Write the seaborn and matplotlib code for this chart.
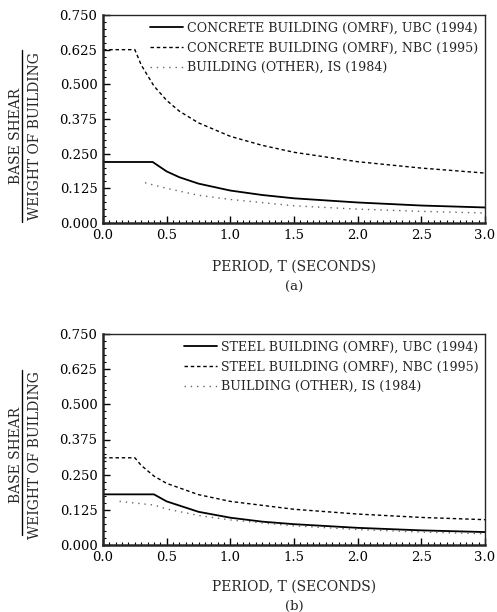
import matplotlib
matplotlib.use("Agg")
import matplotlib.pyplot as plt
from matplotlib.lines import Line2D
from matplotlib.ticker import MultipleLocator, FormatStrFormatter
import seaborn as sns
import pandas as pd

# ---------------- data ----------------
# (a) concrete buildings
t_ubc_c = [0.0, 0.39, 0.5, 0.6, 0.75, 1.0, 1.25, 1.5, 2.0, 2.5, 3.0]
v_ubc_c = [0.22, 0.22, 0.186, 0.165, 0.142, 0.117, 0.101, 0.089, 0.074, 0.063, 0.056]
t_nbc_c = [0.0, 0.25, 0.3, 0.4, 0.5, 0.6, 0.75, 1.0, 1.25, 1.5, 2.0, 2.5, 3.0]
v_nbc_c = [0.625, 0.625, 0.57, 0.494, 0.442, 0.403, 0.361, 0.3125, 0.28, 0.255, 0.221, 0.198, 0.18]
t_is_a = [0.33, 0.5, 0.75, 1.0, 1.5, 2.0, 2.5, 3.0]
v_is_a = [0.145, 0.125, 0.1, 0.085, 0.062, 0.05, 0.042, 0.036]

# (b) steel buildings
t_ubc_s = [0.0, 0.4, 0.5, 0.75, 1.0, 1.25, 1.5, 2.0, 2.5, 3.0]
v_ubc_s = [0.18, 0.18, 0.155, 0.118, 0.097, 0.083, 0.074, 0.061, 0.052, 0.046]
t_nbc_s = [0.0, 0.25, 0.3, 0.4, 0.5, 0.75, 1.0, 1.5, 2.0, 2.5, 3.0]
v_nbc_s = [0.31, 0.31, 0.283, 0.245, 0.219, 0.179, 0.155, 0.127, 0.11, 0.098, 0.09]
t_is_b = [0.13, 0.4, 0.5, 0.75, 1.0, 1.5, 2.0, 2.5, 3.0]
v_is_b = [0.155, 0.142, 0.128, 0.105, 0.089, 0.068, 0.055, 0.046, 0.04]

labels_a = ["CONCRETE BUILDING (OMRF), UBC (1994)",
            "CONCRETE BUILDING (OMRF), NBC (1995)",
            "BUILDING (OTHER), IS (1984)"]
labels_b = ["STEEL BUILDING (OMRF), UBC (1994)",
            "STEEL BUILDING (OMRF), NBC (1995)",
            "BUILDING (OTHER), IS (1984)"]
xticks = [0.0, 0.5, 1.0, 1.5, 2.0, 2.5, 3.0]
yticks = [0.0, 0.125, 0.25, 0.375, 0.5, 0.625, 0.75]
xlabel = "PERIOD, T (SECONDS)"
ylabel_top = "BASE SHEAR"
ylabel_bot = "WEIGHT OF BUILDING"
panel_tags = ["(a)", "(b)"]

# ---------------- style ----------------
sns.set_style("ticks")
plt.rcParams["font.family"] = ["DejaVu Serif"]
plt.rcParams["font.size"] = 9

fig = plt.figure(figsize=(4.97, 6.12), dpi=100)

W, H = 497.0, 612.0
def ax_rect(l, r, t, b):
    return [l / W, 1 - b / H, (r - l) / W, (b - t) / H]

styles = [dict(color="black", linestyle="-", linewidth=1.3),
          dict(color="black", linestyle=(0, (2.5, 2)), linewidth=1.0),
          dict(color="#666666", linestyle=(0, (1, 3.5)), linewidth=1.0)]

panels = [
    dict(rect=ax_rect(103, 485, 15, 223),
         series=[(t_ubc_c, v_ubc_c), (t_nbc_c, v_nbc_c), (t_is_a, v_is_a)],
         labels=labels_a, tag=panel_tags[0], ylab_cy=136, ylab_span=(50, 222),
         xlab_y=267, tag_y=287),
    dict(rect=ax_rect(103, 485, 334, 545),
         series=[(t_ubc_s, v_ubc_s), (t_nbc_s, v_nbc_s), (t_is_b, v_is_b)],
         labels=labels_b, tag=panel_tags[1], ylab_cy=455, ylab_span=(370, 535),
         xlab_y=587, tag_y=606),
]

for p in panels:
    ax = fig.add_axes(p["rect"])
    for (tx, vy), lab, st in zip(p["series"], p["labels"], styles):
        df = pd.DataFrame({"T": tx, "V": vy})
        sns.lineplot(data=df, x="T", y="V", ax=ax, label=lab, **st)
    ax.set_xlim(0, 3.0)
    ax.set_ylim(0, 0.75)
    ax.set_xticks(xticks)
    ax.set_yticks(yticks)
    ax.xaxis.set_major_formatter(FormatStrFormatter("%.1f"))
    ax.yaxis.set_major_formatter(FormatStrFormatter("%.3f"))
    ax.xaxis.set_minor_locator(MultipleLocator(0.05))
    ax.yaxis.set_minor_locator(MultipleLocator(0.025))
    ax.tick_params(which="both", direction="in", top=False, right=False,
                   labelsize=9.5, colors="black")
    ax.tick_params(which="major", length=5, width=1.0, pad=4)
    ax.tick_params(which="minor", length=2.5, width=0.8)
    for s in ["left", "bottom"]:
        ax.spines[s].set_linewidth(1.8)
    for s in ["top", "right"]:
        ax.spines[s].set_linewidth(1.0)
    ax.set_xlabel("")
    ax.set_ylabel("")
    ax.legend(loc="upper right", frameon=False, fontsize=9.1,
              handlelength=2.6, handletextpad=0.35, labelspacing=0.55,
              borderaxespad=0.1)
    # x label and panel tag
    fig.text(294 / W, 1 - p["xlab_y"] / H, xlabel, ha="center", va="center",
             fontsize=10)
    fig.text(294 / W, 1 - p["tag_y"] / H, p["tag"], ha="center", va="center",
             fontsize=9.5)
    # y label as a fraction
    cy = 1 - p["ylab_cy"] / H
    fig.text(16 / W, cy, ylabel_top, rotation=90, ha="center", va="center",
             fontsize=10)
    fig.text(35 / W, cy, ylabel_bot, rotation=90, ha="center", va="center",
             fontsize=10)
    y0, y1 = p["ylab_span"]
    fig.add_artist(Line2D([22 / W, 22 / W], [1 - y0 / H, 1 - y1 / H],
                          transform=fig.transFigure, color="black", lw=1.0))

fig.savefig("out.png", dpi=100)
